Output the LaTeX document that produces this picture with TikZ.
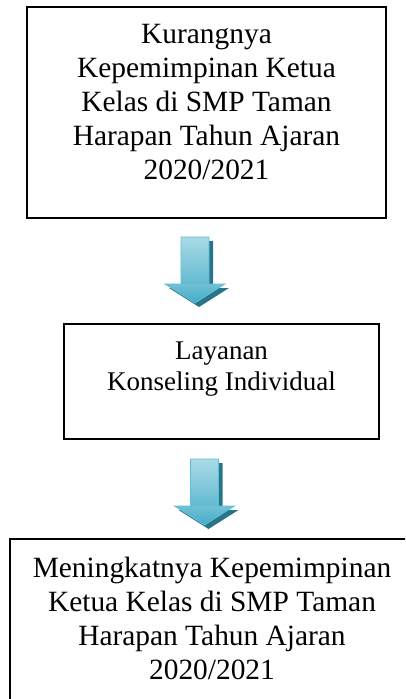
\documentclass[tikz,border=0pt]{standalone}
\usepackage{fontspec}
\setmainfont{Liberation Serif}
\usepackage{tikz}
\usepackage{xcolor}
\definecolor{flowlight}{RGB}{170,218,231}
\definecolor{flowmid}{RGB}{66,172,199}
\definecolor{flowedge}{RGB}{98,190,213}
\definecolor{flowshadow}{RGB}{40,116,138}

\tikzset{
  flowbox/.style={draw=black,line width=1.1pt,inner sep=0pt},
  flowtext/.style={align=center,inner sep=0pt,anchor=north},
  bigfont/.style={font=\fontsize{29.4}{33.8}\selectfont},
  smallfont/.style={font=\fontsize{27}{31}\selectfont},
  arrowshape/.style={insert path={(-14,0) -- (14,0) -- (14,-47) -- (30,-47) -- (0,-66) -- (-30,-47) -- (-14,-47) -- cycle}},
  blockarrow/.pic={
    \fill[flowshadow,shift={(4,-4)},arrowshape];
    \shade[top color=flowlight,middle color=flowmid,bottom color=flowmid!70!flowlight] (-14,0) rectangle (14,-47.5);
    \shade[top color=flowmid!55!flowlight,bottom color=flowmid] (-30,-47) -- (30,-47) -- (0,-66) -- cycle;
    \draw[flowedge,line width=0.8pt,arrowshape];
  }
}

\begin{document}
\begin{tikzpicture}[x=1pt,y=1pt]
  \useasboundingbox (0,0) rectangle (405,-699);
  \clip (0,0) rectangle (405,-699);

  \node[flowbox,minimum width=359pt,minimum height=211pt] (masalah) at (206.5,-112.5) {};
  \node[flowtext,bigfont] (masalahtext) at (206.5,-24.5)
    {Kurangnya\\Kepemimpinan Ketua\\Kelas di SMP Taman\\Harapan Tahun Ajaran\\2020/2021};

  \pic (panahA) at (195,-237) {blockarrow};

  \node[flowbox,minimum width=315pt,minimum height=115pt] (layanan) at (221.5,-381.5) {};
  \node[flowtext,smallfont] (layanantext) at (221.5,-342)
    {Layanan\\Konseling Individual};

  \pic (panahB) at (204.5,-459) {blockarrow};

  \node[flowbox,minimum width=404pt,minimum height=190pt] (hasil) at (212,-634) {};
  \node[flowtext,bigfont] (hasiltext) at (212,-557)
    {Meningkatnya Kepemimpinan\\Ketua Kelas di SMP Taman\\Harapan Tahun Ajaran\\2020/2021};
\end{tikzpicture}
\end{document}
